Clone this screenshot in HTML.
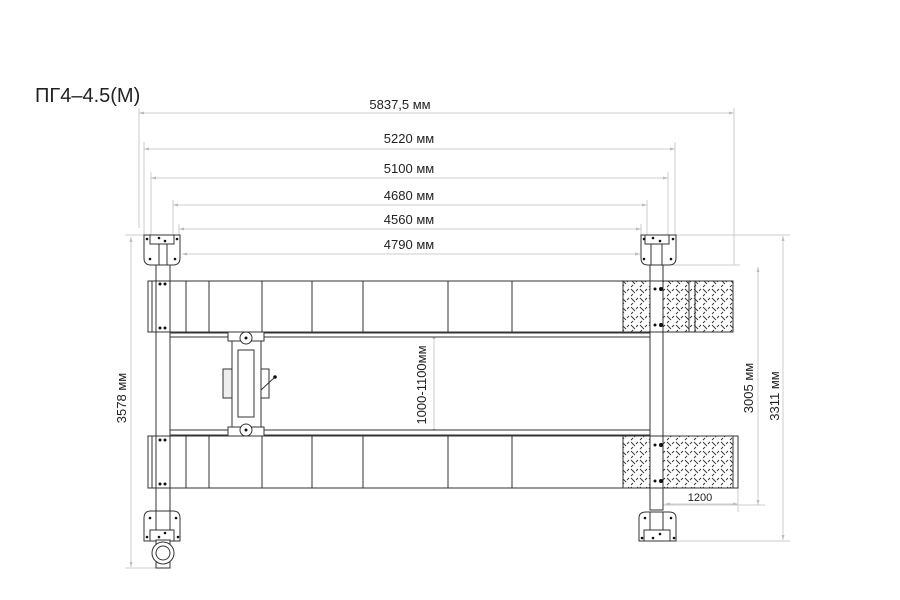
<!DOCTYPE html>
<html><head><meta charset="utf-8"><style>
html,body{margin:0;padding:0;background:#fff}
svg{display:block}
text{font-family:"Liberation Sans",sans-serif;fill:#222}
</style></head><body>
<svg width="900" height="600" viewBox="0 0 900 600" xmlns="http://www.w3.org/2000/svg">
<defs>
<pattern id="chk" width="9" height="9" patternUnits="userSpaceOnUse">
<path d="M1 1 L5 5 M8 1 L6 3 M1 8 L3 6" stroke="#333" stroke-width="0.9"/>
</pattern>
<marker id="ar" viewBox="0 0 10 10" refX="10" refY="5" markerWidth="7" markerHeight="5" orient="auto-start-reverse"><path d="M0 2 L10 5 L0 8z" fill="#bbb"/></marker>
</defs>
<text x="35" y="102" font-size="20">ПГ4–4.5(М)</text>

<g stroke="#ccc" stroke-width="1" fill="none">
<path d="M139 108V228 M734 108V265 M144 142V235 M675 142V235 M151 172V240 M668 172V240 M173 200V240 M647 200V240 M179 224V240 M641 224V240"/>
<path d="M660 265H740 M676 235H790 M676 541H790 M663 505H765 M738 488V512 M125 235H150 M125 568H165"/>
</g>
<g stroke="#ccc" stroke-width="1" marker-start="url(#ar)" marker-end="url(#ar)">
<line x1="139" y1="113" x2="734" y2="113"/>
<line x1="144" y1="149" x2="675" y2="149"/>
<line x1="151" y1="178" x2="668" y2="178"/>
<line x1="173" y1="205" x2="647" y2="205"/>
<line x1="179" y1="229" x2="641" y2="229"/>
<line x1="182" y1="254" x2="640" y2="254"/>
<line x1="131" y1="237" x2="131" y2="567"/>
<line x1="758" y1="267" x2="758" y2="505"/>
<line x1="783" y1="236" x2="783" y2="540"/>
<line x1="665" y1="504" x2="738" y2="504"/>
<line x1="545" y1="282" x2="545" y2="331"/>
<line x1="434" y1="334" x2="434" y2="434"/>
</g>
<g font-size="13" text-anchor="middle">
<text x="400" y="109">5837,5 мм</text>
<text x="409" y="143">5220 мм</text>
<text x="409" y="173">5100 мм</text>
<text x="409" y="200">4680 мм</text>
<text x="409" y="224">4560 мм</text>
<text x="409" y="249">4790 мм</text>
<text x="700" y="501" font-size="11">1200</text>
<text transform="translate(126,398) rotate(-90)">3578 мм</text>
<text transform="translate(753,388) rotate(-90)">3005 мм</text>
<text transform="translate(779,396) rotate(-90)">3311 мм</text>
<text transform="translate(539,306) rotate(-90)">510мм</text>
<text transform="translate(426,385) rotate(-90)">1000-1100мм</text>
</g>

<g stroke="#333" stroke-width="1" fill="#fff">
<rect x="156" y="250" width="14" height="290"/>
<rect x="650" y="250" width="13" height="260"/>
<rect x="170" y="333" width="480" height="4"/>
<rect x="170" y="430" width="480" height="5"/>
<rect x="148" y="281" width="585" height="51"/>
<rect x="148" y="436" width="590" height="52"/>
<rect x="623" y="281" width="27" height="51" fill="url(#chk)"/>
<rect x="663" y="281" width="70" height="51" fill="url(#chk)"/>
<rect x="623" y="436" width="27" height="52" fill="url(#chk)"/>
<rect x="663" y="436" width="70" height="52" fill="url(#chk)"/>
<rect x="650" y="281" width="13" height="51"/>
<rect x="650" y="436" width="13" height="52"/>
<rect x="156" y="281" width="14" height="51"/>
<rect x="156" y="436" width="14" height="52"/>
<path d="M152 281V332 M152 436V488 M186 281V332 M186 436V488 M209 281V332 M209 436V488 M262 281V332 M262 436V488 M312 281V332 M312 436V488 M363 281V332 M363 436V488 M448 281V332 M448 436V488 M512 281V332 M512 436V488 M689 281V332 M695 281V332 M733 436V488" fill="none"/>
<path d="M144 235H180V258Q180 265 173 265H151Q144 265 144 258Z"/>
<rect x="150" y="235" width="24" height="9"/>
<path d="M159 244V265 M167 244V265" fill="none"/>
<path d="M641 235H676V258Q676 265 669 265H648Q641 265 641 258Z"/>
<rect x="645" y="235" width="24" height="9"/>
<path d="M651 244V265 M662 244V265" fill="none"/>
<path d="M144 541H180V518Q180 511 173 511H151Q144 511 144 518Z"/>
<rect x="150" y="530" width="24" height="11"/>
<path d="M156 511V530 M170 511V530" fill="none"/>
<path d="M639 541H676V518Q676 512 669 512H646Q639 512 639 518Z"/>
<rect x="644" y="530" width="26" height="11"/>
<path d="M650 512V530 M663 512V530" fill="none"/>
<rect x="156" y="540" width="14" height="28"/>
<circle cx="163" cy="553" r="11"/>
<circle cx="163" cy="553" r="7"/>
<rect x="232" y="332" width="29" height="104"/>
<rect x="228" y="332" width="36" height="9"/>
<rect x="228" y="427" width="36" height="9"/>
<circle cx="246" cy="338" r="6"/>
<circle cx="246" cy="430" r="6"/>
<rect x="238" y="350" width="16" height="67"/>
<rect x="223" y="369" width="9" height="29" fill="#eee"/>
<rect x="261" y="369" width="8" height="29"/>
<path d="M261 390L275 377" fill="none"/>
</g>
<g fill="#111">
<circle cx="246" cy="338" r="1.5"/><circle cx="246" cy="430" r="1.5"/><circle cx="275" cy="377" r="1.8"/>
<circle cx="160" cy="284" r="1.5"/><circle cx="165" cy="284" r="1.5"/><circle cx="160" cy="328" r="1.5"/><circle cx="165" cy="328" r="1.5"/>
<circle cx="160" cy="440" r="1.5"/><circle cx="165" cy="440" r="1.5"/><circle cx="160" cy="484" r="1.5"/><circle cx="165" cy="484" r="1.5"/>
<circle cx="655" cy="289" r="1.5"/><circle cx="661" cy="289" r="2"/><circle cx="655" cy="325" r="1.5"/><circle cx="661" cy="325" r="2"/>
<circle cx="655" cy="445" r="1.5"/><circle cx="661" cy="445" r="2"/><circle cx="655" cy="481" r="1.5"/><circle cx="661" cy="481" r="2"/>
<circle cx="147" cy="239" r="1.3"/><circle cx="177" cy="239" r="1.3"/><circle cx="159" cy="238" r="1.3"/><circle cx="165" cy="241" r="1.3"/><circle cx="150" cy="259" r="1.3"/><circle cx="175" cy="259" r="1.3"/>
<circle cx="644" cy="239" r="1.3"/><circle cx="673" cy="239" r="1.3"/><circle cx="653" cy="238" r="1.3"/><circle cx="660" cy="241" r="1.3"/><circle cx="644" cy="259" r="1.3"/><circle cx="671" cy="259" r="1.3"/>
<circle cx="150" cy="518" r="1.3"/><circle cx="176" cy="518" r="1.3"/><circle cx="147" cy="537" r="1.3"/><circle cx="178" cy="537" r="1.3"/><circle cx="159" cy="537" r="1.3"/><circle cx="165" cy="533" r="1.3"/>
<circle cx="645" cy="518" r="1.3"/><circle cx="671" cy="518" r="1.3"/><circle cx="642" cy="538" r="1.3"/><circle cx="674" cy="538" r="1.3"/><circle cx="653" cy="538" r="1.3"/><circle cx="660" cy="534" r="1.3"/>
</g>
</svg>
</body></html>
